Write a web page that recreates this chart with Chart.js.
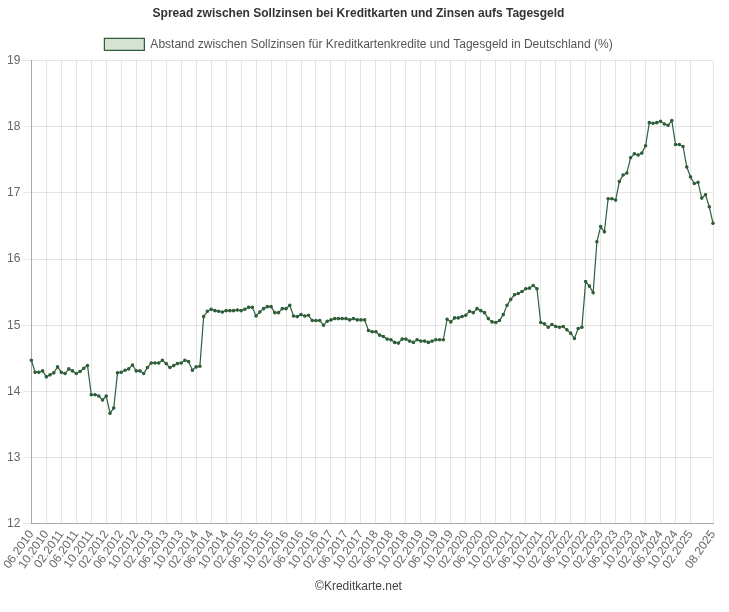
<!DOCTYPE html>
<html>
<head>
<meta charset="utf-8">
<script src="https://cdn.jsdelivr.net/npm/chart.js@4/dist/chart.umd.min.js"></script>
<style>
  body { margin: 0; background: #fff; }
  #wrap { width: 729px; height: 612px; }
</style>
</head>
<body>
<div id="wrap"><canvas id="spread"></canvas></div>
<script>
// monthly values, 06.2010 .. 08.2025
const startYear = 2010, startMonth = 6;
const spread = [
  14.47, 14.29, 14.29, 14.31, 14.22, 14.25, 14.28, 14.37, 14.29, 14.27,
  14.34, 14.31, 14.27, 14.30, 14.35, 14.39, 13.95, 13.95, 13.93, 13.87,
  13.93, 13.67, 13.75, 14.28, 14.29, 14.32, 14.34, 14.40, 14.31, 14.31,
  14.27, 14.36, 14.43, 14.43, 14.43, 14.47, 14.42, 14.36, 14.39, 14.42,
  14.43, 14.47, 14.45, 14.32, 14.37, 14.38, 15.13, 15.21, 15.24, 15.22,
  15.21, 15.20, 15.22, 15.22, 15.22, 15.23, 15.22, 15.24, 15.27, 15.27,
  15.14, 15.20, 15.25, 15.28, 15.28, 15.19, 15.19, 15.25, 15.25, 15.30,
  15.14, 15.13, 15.16, 15.14, 15.15, 15.07, 15.07, 15.07, 15.00, 15.06,
  15.08, 15.10, 15.10, 15.10, 15.10, 15.08, 15.10, 15.08, 15.08, 15.08,
  14.92, 14.90, 14.90, 14.85, 14.83, 14.79, 14.78, 14.74, 14.73, 14.79,
  14.79, 14.76, 14.74, 14.78, 14.76, 14.76, 14.74, 14.76, 14.78, 14.78,
  14.78, 15.09, 15.05, 15.11, 15.11, 15.13, 15.15, 15.21, 15.19, 15.25,
  15.22, 15.19, 15.10, 15.05, 15.04, 15.07, 15.16, 15.30, 15.39, 15.46,
  15.48, 15.51, 15.55, 15.56, 15.60, 15.55, 15.04, 15.02, 14.97, 15.01,
  14.98, 14.97, 14.98, 14.93, 14.88, 14.80, 14.95, 14.97, 15.66, 15.59,
  15.49, 16.26, 16.49, 16.41, 16.91, 16.91, 16.89, 17.17, 17.27, 17.30,
  17.53, 17.59, 17.57, 17.60, 17.71, 18.06, 18.05, 18.06, 18.08, 18.04,
  18.02, 18.09, 17.73, 17.73, 17.70, 17.39, 17.24, 17.14, 17.16, 16.92,
  16.97, 16.79, 16.54
];
const months = spread.map((_, i) => {
  const m = (startMonth - 1 + i) % 12 + 1;
  const y = startYear + Math.floor((startMonth - 1 + i) / 12);
  return String(m).padStart(2, "0") + "." + y;
});
const lastIdx = months.length - 1;
const isTick = i => (i % 4 === 0 && i < lastIdx - 3) || i === lastIdx;

new Chart(document.getElementById("spread"), {
  type: "line",
  data: {
    labels: months,
    datasets: [{
      label: "Abstand zwischen Sollzinsen für Kreditkartenkredite und Tagesgeld in Deutschland (%)",
      data: spread,
      borderColor: "#2f5f3a",
      backgroundColor: "#d5e3d5",
      borderWidth: 1.2,
      pointRadius: 1.2,
      pointBackgroundColor: "#2f5f3a",
      pointBorderColor: "#2f5f3a",
      tension: 0
    }]
  },
  options: {
    responsive: true,
    maintainAspectRatio: false,
    animation: false,
    layout: { padding: { left: 4, right: 16, top: 0, bottom: 4 } },
    plugins: {
      title: {
        display: true,
        text: "Spread zwischen Sollzinsen bei Kreditkarten und Zinsen aufs Tagesgeld",
        color: "#333",
        font: { size: 12, weight: "bold", family: "Arial, Liberation Sans" },
        padding: { top: 6, bottom: 10 }
      },
      subtitle: {
        display: true,
        position: "bottom",
        text: "©Kreditkarte.net",
        color: "#444",
        font: { size: 12, family: "Arial, Liberation Sans" },
        padding: { top: 4, bottom: 14 }
      },
      legend: {
        labels: {
          color: "#555",
          boxWidth: 40,
          boxHeight: 12,
          padding: 8,
          font: { size: 12, family: "Arial, Liberation Sans" }
        }
      },
      tooltip: { enabled: false }
    },
    scales: {
      x: {
        grid: { color: "rgba(0,0,0,0.1)", drawTicks: false },
        border: { color: "#aaa" },
        ticks: {
          autoSkip: false,
          maxRotation: 55,
          minRotation: 55,
          color: "#666",
          font: { size: 12, family: "Arial, Liberation Sans" },
          padding: 4,
          callback: (v, i) => isTick(i) ? months[i] : null
        }
      },
      y: {
        min: 12,
        max: 19,
        ticks: {
          stepSize: 1,
          color: "#666",
          font: { size: 12, family: "Arial, Liberation Sans" }
        },
        grid: { color: "rgba(0,0,0,0.1)" },
        border: { color: "#aaa" }
      }
    }
  }
});
</script>
</body>
</html>
